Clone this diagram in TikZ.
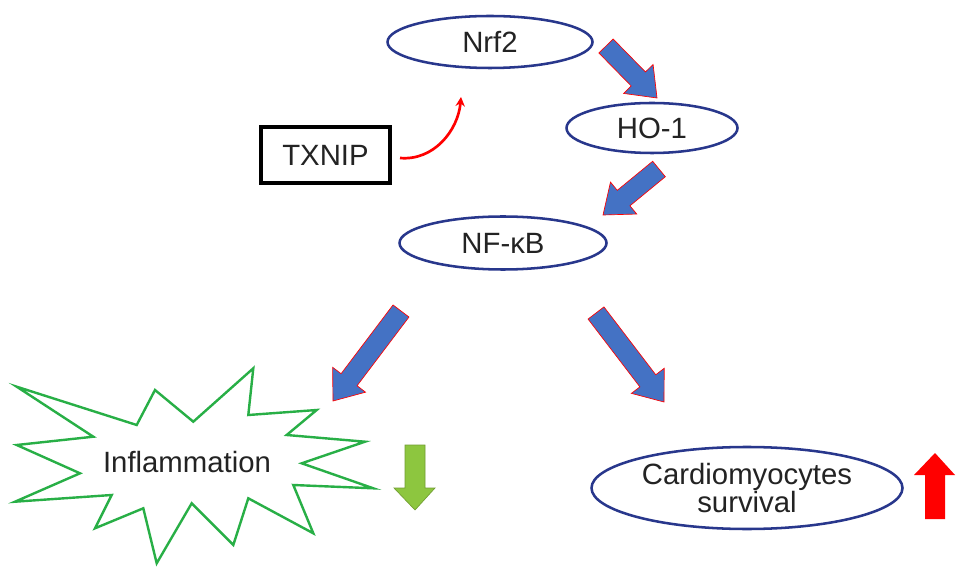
\documentclass[tikz,border=0pt]{standalone}
\usepackage{fontspec}
\setmainfont{Liberation Sans}
\usetikzlibrary{calc,shapes.geometric,arrows.meta}
\definecolor{navy}{RGB}{40,55,140}
\definecolor{blk}{RGB}{68,114,196}
\definecolor{burst}{RGB}{40,175,70}
\definecolor{lgreen}{RGB}{141,198,63}
\definecolor{txt}{RGB}{35,35,35}
\newcommand\blockarrow[2]{%
  \coordinate (H) at ($(#2)!20pt!(#1)$);
  \filldraw[fill=blk,draw=red,line width=0.5pt,line join=miter]
    ($(#1)!7.5pt!90:(#2)$) -- ($(H)!7.5pt!90:(#2)$) -- ($(H)!15.5pt!90:(#2)$) -- (#2)
    -- ($(H)!15.5pt!-90:(#2)$) -- ($(H)!7.5pt!-90:(#2)$) -- ($(#1)!7.5pt!-90:(#2)$) -- cycle;}
\tikzset{
  oval/.style={ellipse,draw=navy,line width=1.9pt,inner sep=0pt,text=txt,font=\fontsize{22}{21}\selectfont,align=center},
  boxnode/.style={rectangle,draw=black,line width=2.3pt,inner sep=0pt,text=txt,font=\fontsize{22}{22}\selectfont},
  plain/.style={inner sep=0pt,text=txt,font=\fontsize{22}{22}\selectfont}
}
\begin{document}
\begin{tikzpicture}[x=0.75pt,y=-0.75pt]
\useasboundingbox (0,0) rectangle (969,580);
\fill[white] (0,0) rectangle (969,580);
% ellipses
\node[oval,minimum width=153.75pt,minimum height=39pt] (nrf2) at (490,42) {Nrf2};
\node[oval,minimum width=128.25pt,minimum height=37.5pt] (ho1) at (652,128) {HO-1};
\node[oval,minimum width=155.25pt,minimum height=39.75pt] (nfkb) at (503,243) {NF-κB};
\node[oval,minimum width=233.25pt,minimum height=61.5pt] (cardio) at (747,488) {Cardiomyocytes\\survival};
\node[boxnode,minimum width=96.75pt,minimum height=42pt] (txnip) at (325.5,155) {TXNIP};
% starburst
\draw[burst,line width=1.8pt,line join=miter,fill=white]
 (16.7,386.7) -- (136.7,425) -- (155,390) -- (193.3,421.7) -- (253.3,368.3) -- (248.3,415)
 -- (316.7,410) -- (286.7,435) -- (365,441.7) -- (301.7,463.3) -- (373.3,488.3) -- (293.3,485)
 -- (313.3,533.3) -- (248.3,498.3) -- (233.3,545) -- (191.7,503.3) -- (156.7,563.3) -- (143.3,508.3)
 -- (95,528.3) -- (111.7,495) -- (15,501.7) -- (80,473.3) -- (16.7,445) -- (93.3,436.7) -- cycle;
\node[plain] (infl) at (187,462) {Inflammation};
% red curve
\coordinate (cs) at (400,158);
\coordinate (ce) at (461,97);
\draw[red,line width=2pt,-{Stealth[length=7pt,width=7pt]}] (cs) to[out=-5,in=-95] (ce);
% block arrows
\coordinate (a1s) at (606,46);
\coordinate (a1e) at (657,98);
\coordinate (a2s) at (659,169);
\coordinate (a2e) at (603,215);
\coordinate (a3s) at (401,311);
\coordinate (a3e) at (333,401);
\coordinate (a4s) at (596,313);
\coordinate (a4e) at (664,402);
\blockarrow{a1s}{a1e}
\blockarrow{a2s}{a2e}
\blockarrow{a3s}{a3e}
\blockarrow{a4s}{a4e}
% green down arrow
\filldraw[fill=lgreen,draw=lgreen!80!black,line width=0.5pt]
  (405,445) -- (425,445) -- (425,488) -- (435,488) -- (415,510) -- (394,488) -- (405,488) -- cycle;
% red up arrow
\fill[red] (925,519) -- (945,519) -- (945,475) -- (955,475) -- (935,453) -- (914,475) -- (925,475) -- cycle;
\end{tikzpicture}
\end{document}
